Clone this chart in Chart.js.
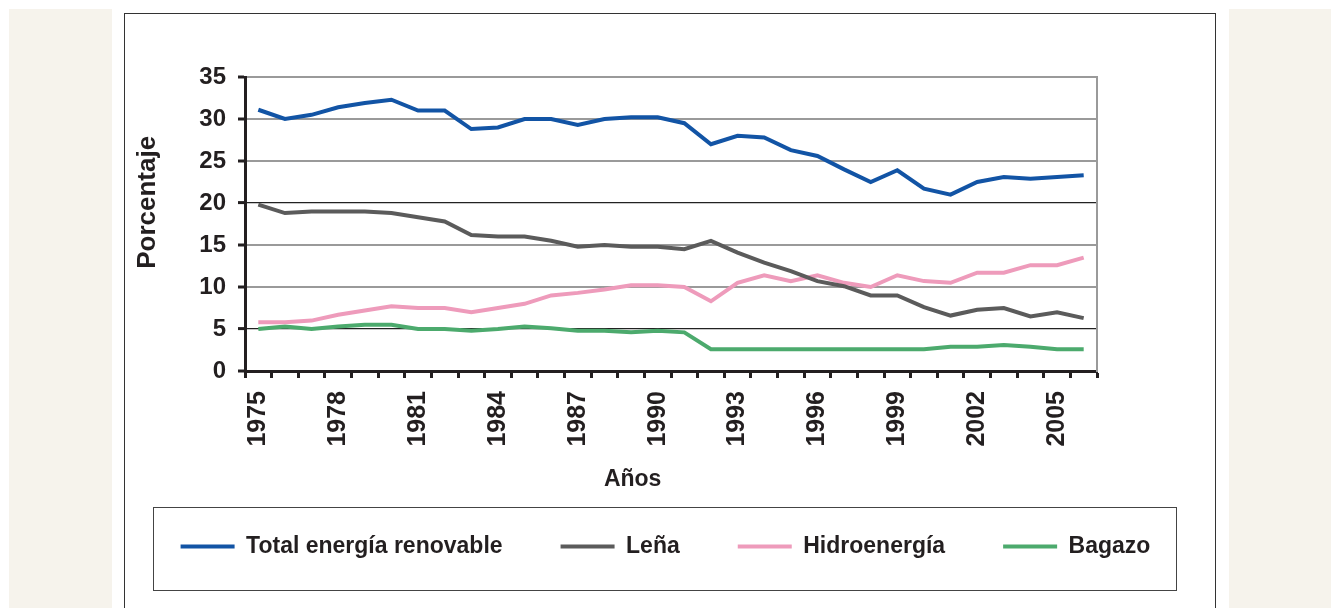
<!DOCTYPE html>
<html>
<head>
<meta charset="utf-8">
<script src="https://cdn.jsdelivr.net/npm/chart.js@4.4.1/dist/chart.umd.min.js"></script>
<style>
  body { margin: 0; width: 1331px; height: 608px; background: #fff; position: relative; overflow: hidden; }
  .beige { position: absolute; top: 9px; height: 599px; background: #f6f3ec; }
  #panel { position: absolute; left: 124px; top: 13px; width: 1090px; height: 610px; border: 1.5px solid #333; }
  #legendBox { position: absolute; left: 153px; top: 507px; width: 1022px; height: 82px; border: 1.5px solid #444; }
  #chart { position: absolute; left: 0; top: 0; }
</style>
</head>
<body>
<div class="beige" style="left:9px;width:103px"></div>
<div class="beige" style="left:1229px;width:102px"></div>
<div id="panel"></div>
<div id="legendBox"></div>
<canvas id="chart" width="1331" height="608"></canvas>
<script>
const years = ["1975", "1976", "1977", "1978", "1979", "1980", "1981", "1982", "1983", "1984",
    "1985", "1986", "1987", "1988", "1989", "1990", "1991", "1992", "1993", "1994",
    "1995", "1996", "1997", "1998", "1999", "2000", "2001", "2002", "2003", "2004",
    "2005", "2006"];

const total = [31.1, 30.0, 30.5, 31.4, 31.9, 32.3, 31.0, 31.0, 28.8, 29.0,
    30.0, 30.0, 29.3, 30.0, 30.2, 30.2, 29.5, 27.0, 28.0, 27.8,
    26.3, 25.6, 24.0, 22.5, 23.9, 21.7, 21.0, 22.5, 23.1, 22.9,
    23.1, 23.3];
const lena = [19.8, 18.8, 19.0, 19.0, 19.0, 18.8, 18.3, 17.8, 16.2, 16.0,
    16.0, 15.5, 14.8, 15.0, 14.8, 14.8, 14.5, 15.5, 14.1, 12.9,
    11.9, 10.7, 10.1, 9.0, 9.0, 7.6, 6.6, 7.3, 7.5, 6.5,
    7.0, 6.3];
const hidro = [5.8, 5.8, 6.0, 6.7, 7.2, 7.7, 7.5, 7.5, 7.0, 7.5,
    8.0, 9.0, 9.3, 9.7, 10.2, 10.2, 10.0, 8.3, 10.5, 11.4,
    10.7, 11.4, 10.5, 10.0, 11.4, 10.7, 10.5, 11.7, 11.7, 12.6,
    12.6, 13.5];
const bagazo = [5.0, 5.3, 5.0, 5.3, 5.5, 5.5, 5.0, 5.0, 4.8, 5.0,
    5.3, 5.1, 4.8, 4.8, 4.6, 4.8, 4.6, 2.6, 2.6, 2.6,
    2.6, 2.6, 2.6, 2.6, 2.6, 2.6, 2.9, 2.9, 3.1, 2.9,
    2.6, 2.6];

const seriesNames = ["Total energía renovable", "Leña", "Hidroenergía", "Bagazo"];
const yTicks = { min: 0, max: 35, step: 5 };

const ink = "#231f20";
const font = (size) => ({ family: "'Liberation Sans', Arial, sans-serif", size: size, weight: "bold" });
const PAD_BOTTOM = 40;
const PLOT_BOTTOM = 371;

function line(label, data, color) {
    return {
        label: label,
        data: data,
        borderColor: color,
        backgroundColor: color,
        borderWidth: 4,
        pointRadius: 0,
        tension: 0
    };
}

new Chart(document.getElementById("chart"), {
    type: "line",
    data: {
        labels: years,
        datasets: [
            line(seriesNames[0], total, "#1254a5"),
            line(seriesNames[1], lena, "#5b5b5b"),
            line(seriesNames[2], hidro, "#ee9bbb"),
            line(seriesNames[3], bagazo, "#4caa6d")
        ]
    },
    options: {
        responsive: false,
        animation: false,
        layout: { padding: { left: 120, right: 120, top: 77, bottom: PAD_BOTTOM } },
        plugins: {
            tooltip: { enabled: false },
            legend: {
                position: "bottom",
                labels: {
                    font: font(23),
                    color: ink,
                    usePointStyle: true,
                    pointStyle: "line",
                    pointStyleWidth: 54,
                    padding: 58
                }
            }
        },
        scales: {
            x: {
                offset: true,
                afterFit: (s) => { s.height = s.chart.height - PAD_BOTTOM - s.chart.legend.height - PLOT_BOTTOM; },
                grid: { drawOnChartArea: false, offset: true, tickLength: 7, tickWidth: 3, tickColor: ink },
                border: { display: true, color: ink, width: 3 },
                ticks: {
                    autoSkip: false,
                    minRotation: 90,
                    maxRotation: 90,
                    padding: 13,
                    color: ink,
                    font: font(25),
                    callback: function (value, index) {
                        return index % 3 === 0 ? this.getLabelForValue(value) : "";
                    }
                },
                title: {
                    display: true,
                    text: "Años            ",
                    color: ink,
                    font: font(23),
                    padding: { top: 0, bottom: -16 }
                }
            },
            y: {
                min: yTicks.min,
                max: yTicks.max,
                afterFit: (s) => { s.width = 125; },
                grid: {
                    color: (c) => (c.tick && (c.tick.value === 20 || c.tick.value === 5)) ? "#222" : "#9a9a9a",
                    lineWidth: (c) => (c.tick && (c.tick.value === 20 || c.tick.value === 5)) ? 1.2 : 2,
                    tickLength: 7,
                    tickWidth: 3,
                    tickColor: ink
                },
                border: { display: true, color: ink, width: 3 },
                ticks: { stepSize: yTicks.step, padding: 12, color: ink, font: font(24) },
                title: {
                    display: true,
                    text: "      Porcentaje",
                    color: ink,
                    font: font(26),
                    padding: { top: 12, bottom: 0 }
                }
            },
            yRight: {
                position: "right",
                display: true,
                afterFit: (s) => { s.width = 114; },
                grid: { display: false, drawTicks: false },
                ticks: { display: false },
                border: { display: true, color: "#9a9a9a", width: 2 }
            }
        }
    }
});
</script>
</body>
</html>
